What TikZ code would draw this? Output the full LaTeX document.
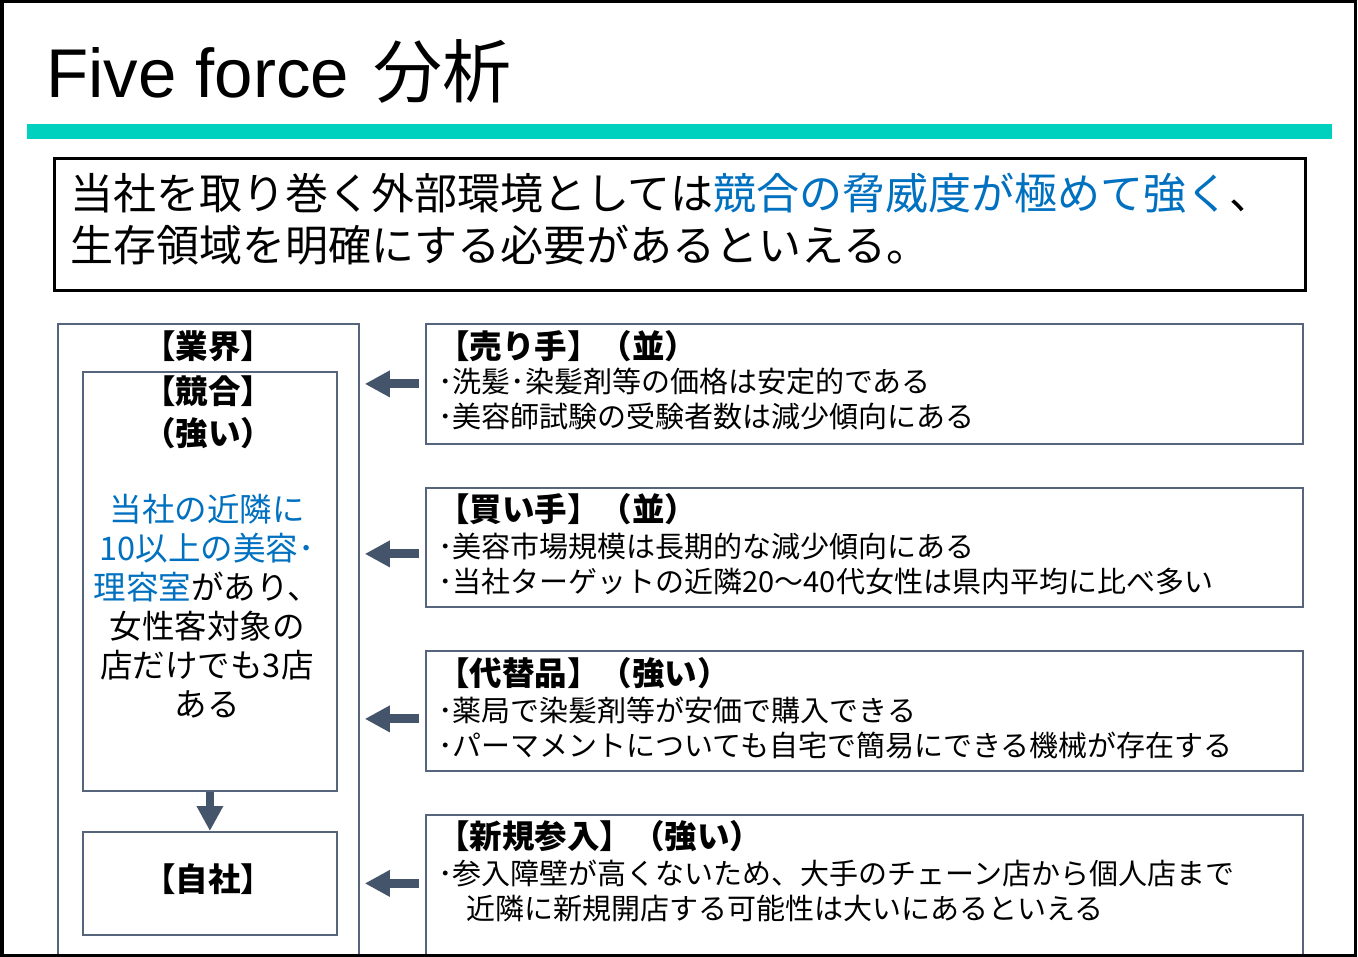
\documentclass[tikz,border=0pt]{standalone}
\usepackage{fontspec}
\setmainfont{Noto Sans CJK JP}
\newfontfamily\lat{Liberation Sans}
\usetikzlibrary{arrows.meta}
\definecolor{tealbar}{RGB}{0,209,190}
\definecolor{slate}{RGB}{86,100,124}
\definecolor{arrc}{RGB}{68,84,106}
\definecolor{jblue}{RGB}{0,112,192}
\begin{document}
\begin{tikzpicture}[x=1pt,y=-1pt,
  boxframe/.style={draw=slate,line width=1.8pt,inner sep=0pt,anchor=north west},
  bigarr/.style={draw=arrc,line width=9pt,-{Triangle[length=25pt,width=25pt]}},
  headtxt/.style={anchor=west,inner sep=0pt,font=\fontsize{32.5}{32.5}\selectfont\bfseries,text height=28.6pt,text depth=3.9pt},
  bodytxt/.style={anchor=west,inner sep=0pt,font=\fontsize{29}{29}\selectfont,text height=25.5pt,text depth=3.5pt},
  lefthead/.style={anchor=center,inner sep=0pt,font=\fontsize{32.5}{32.5}\selectfont\bfseries,text height=28.6pt,text depth=3.9pt},
  msgtxt/.style={anchor=west,inner sep=0pt,font=\fontsize{43}{43}\selectfont,text height=37.8pt,text depth=5.2pt}
]
\useasboundingbox (0,0) rectangle (1358,957);
\fill[white] (0,0) rectangle (1358,957);

% title
\node[anchor=base west,inner sep=0pt,font=\fontsize{69}{69}\selectfont] (title) at (46,98) {{\lat Five force}\hspace{24pt}分析};
\fill[tealbar] (27,124) rectangle (1332,139);

% message box
\node[draw=black,line width=3pt,inner sep=0pt,anchor=north west,minimum width=1251pt,minimum height=132pt] (msg) at (53,157) {};
\node[msgtxt] (msg1) at (70,193) {当社を取り巻く外部環境としては\textcolor{jblue}{競合の脅威度が極めて強く}、};
\node[msgtxt] (msg2) at (70,245) {生存領域を明確にする必要があるといえる。};

% left boxes
\node[boxframe,minimum width=301pt,minimum height=631pt] (ind) at (57,323) {};
\node[boxframe,minimum width=254pt,minimum height=419pt] (comp) at (82,371) {};
\node[boxframe,minimum width=254pt,minimum height=103pt] (self) at (82,831) {};

\node[lefthead] (indt) at (208,346) {【業界】};
\node[lefthead] (compt) at (208,391) {【競合】};
\node[lefthead] (compt2) at (208,433) {（強い）};
\node[anchor=center,inner sep=0pt,align=center,font=\fontsize{32.5}{39}\selectfont,text height=28.6pt,text depth=3.9pt] (compd) at (207,704)
 {\textcolor{jblue}{当社の近隣に}\\\textcolor{jblue}{10以上の美容･}\\\textcolor{jblue}{理容室}があり、\\女性客対象の\\店だけでも3店\\ある};
\node[lefthead] (selft) at (208,879) {【自社】};

% right boxes
\node[boxframe,minimum width=877pt,minimum height=120pt] (sell) at (425,323) {};
\node[boxframe,minimum width=877pt,minimum height=119pt] (buy) at (425,487) {};
\node[boxframe,minimum width=877pt,minimum height=120pt] (sub) at (425,650) {};
\node[boxframe,minimum width=877pt,minimum height=140pt] (entry) at (425,814) {};

\node[headtxt] (sellh) at (437,346) {【売り手】（並）};
\node[bodytxt] (sell1) at (438,382) {･洗髪･染髪剤等の価格は安定的である};
\node[bodytxt] (sell2) at (438,417) {･美容師試験の受験者数は減少傾向にある};

\node[headtxt] (buyh) at (437,509) {【買い手】（並）};
\node[bodytxt] (buy1) at (438,546) {･美容市場規模は長期的な減少傾向にある};
\node[bodytxt] (buy2) at (438,581) {･当社ターゲットの近隣20～40代女性は県内平均に比べ多い};

\node[headtxt] (subh) at (437,673) {【代替品】（強い）};
\node[bodytxt] (sub1) at (438,710) {･薬局で染髪剤等が安価で購入できる};
\node[bodytxt] (sub2) at (438,745) {･パーマメントについても自宅で簡易にできる機械が存在する};

\node[headtxt] (entryh) at (437,836) {【新規参入】（強い）};
\node[bodytxt] (entry1) at (438,873) {･参入障壁が高くないため、大手のチェーン店から個人店まで};
\node[bodytxt] (entry2) at (466,908) {近隣に新規開店する可能性は大いにあるといえる};

% arrows
\draw[bigarr,shorten <=6pt,shorten >=5pt] (sell.west) -- (sell.west -| ind.east);
\draw[bigarr,shorten <=6pt,shorten >=5pt] ([yshift=-6.5pt]buy.west) -- ([yshift=-6.5pt]buy.west -| ind.east);
\draw[bigarr,shorten <=6pt,shorten >=5pt] ([yshift=-8pt]sub.west) -- ([yshift=-8pt]sub.west -| ind.east);
\draw[bigarr,shorten <=6pt,shorten >=5pt] ([yshift=1.5pt]entry.west) -- ([yshift=1.5pt]entry.west -| ind.east);
\draw[bigarr,line width=8pt] (comp.south) -- (self.north);

% outer frame
\draw[black,line width=3.5pt] (1.75,1.75) rectangle (1355.5,955.25);
\end{tikzpicture}
\end{document}
